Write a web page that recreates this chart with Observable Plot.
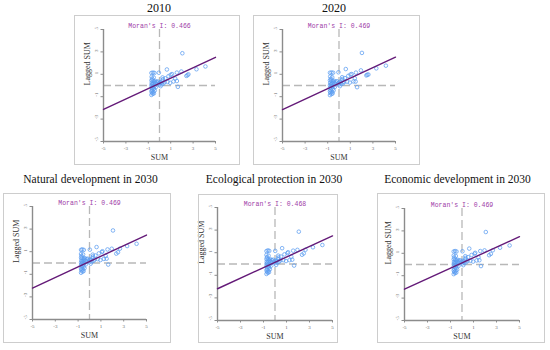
<!DOCTYPE html>
<html><head><meta charset="utf-8">
<script src="https://cdn.jsdelivr.net/npm/d3@7"></script>
<script src="https://cdn.jsdelivr.net/npm/@observablehq/plot@0.6"></script>
<style>
body{margin:0;background:#fff;}
#root{position:relative;width:550px;height:350px;overflow:hidden;background:#fff;}
.title{position:absolute;font-family:"Liberation Serif","Times New Roman",serif;color:#111;white-space:nowrap;transform:translateX(-50%);line-height:1;}
.box{position:absolute;border:1px solid #cdcdcd;box-sizing:border-box;pointer-events:none;}
.panel{position:absolute;}
</style></head><body><div id="root"></div>
<script>
// ---- data ----
const panelTitles = ["2010", "2020", "Natural development in 2030", "Ecological protection in 2030", "Economic development in 2030"];
const moranI = [0.466, 0.469, 0.469, 0.468, 0.469];
const intercepts = [0.19, 0.19, 0.13, 0.15, 0.14];
const axisTicks = [-5, -3, -1, 1, 3, 5];
const xLabel = "SUM";
const yLabel = "Lagged SUM";

const pts2010 = [
 [-0.72,1.12],[-0.58,1.15],[-0.45,1.12],[-0.06,1.14],
 [-0.7,0.78],[-0.52,0.72],[-0.66,0.6],
 [-0.72,0.45],[-0.6,0.42],[-0.48,0.36],[-0.38,0.4],
 [-0.7,0.22],[-0.64,0.12],[-0.55,0.18],[-0.45,0.26],[-0.35,0.22],[-0.25,0.32],[-0.15,0.36],
 [-0.72,0.02],[-0.62,-0.04],[-0.5,-0.08],[-0.4,0.0],[-0.3,-0.12],
 [-0.72,-0.18],[-0.6,-0.24],[-0.5,-0.3],[-0.66,-0.38],[-0.42,-0.44],
 [-0.72,-0.5],[-0.56,-0.56],[-0.68,-0.64],[-0.6,-0.74],[-0.72,-0.84],[-0.5,-0.7],
 [-0.05,0.2],[0.05,0.3],[0.15,0.24],[0.25,0.42],[0.35,0.18],[0.1,-0.06],[0.0,0.06],[0.2,0.1],[0.45,0.3],[0.3,0.56],[0.27,0.72],[0.52,0.64],
 [0.66,1.43],[0.8,0.83],[1.0,0.95],[1.12,1.02],[0.95,0.24],[0.72,0.32],[1.25,0.36],[1.55,0.4],[1.4,0.62],[1.64,-0.12],
 [1.55,1.15],[1.95,1.25],[2.4,0.86],[2.58,1.0],[2.5,0.92],[3.3,1.45],[4.1,1.7],[2.04,2.88]
];
const pts2020 = [
 [-0.8,1.14],[-0.66,1.16],[-0.52,1.14],[-0.05,1.18],
 [-0.78,0.8],[-0.6,0.74],[-0.72,0.6],
 [-0.8,0.46],[-0.68,0.42],[-0.55,0.38],[-0.44,0.42],
 [-0.78,0.24],[-0.7,0.12],[-0.6,0.2],[-0.5,0.28],[-0.4,0.22],[-0.3,0.34],[-0.18,0.38],
 [-0.8,0.02],[-0.7,-0.04],[-0.58,-0.1],[-0.46,0.0],[-0.36,-0.12],
 [-0.8,-0.2],[-0.68,-0.26],[-0.56,-0.32],[-0.74,-0.4],[-0.48,-0.44],
 [-0.8,-0.52],[-0.62,-0.58],[-0.76,-0.66],[-0.66,-0.76],[-0.8,-0.86],[-0.56,-0.7],
 [-0.08,0.22],[0.04,0.32],[0.14,0.26],[0.24,0.44],[0.36,0.2],[0.08,-0.06],[-0.02,0.08],[0.2,0.12],[0.46,0.32],[0.3,0.58],[0.28,0.74],[0.52,0.66],
 [0.6,1.47],[0.82,0.86],[1.02,0.98],[1.12,1.02],[0.96,0.26],[0.72,0.34],[1.28,0.36],[1.47,0.35],[1.4,0.64],[1.6,-0.15],
 [1.5,1.15],[1.94,1.35],[2.42,0.9],[2.6,0.98],[2.5,0.96],[3.3,1.53],[4.15,1.77],[2.03,2.91]
];
const ptsNatural = [
 [-0.74,1.16],[-0.64,1.2],[-0.5,1.16],[0.03,1.18],
 [-0.74,0.8],[-0.56,0.76],[-0.7,0.62],
 [-0.74,0.46],[-0.62,0.42],[-0.5,0.38],[-0.4,0.42],
 [-0.72,0.22],[-0.66,0.12],[-0.56,0.2],[-0.46,0.28],[-0.36,0.22],[-0.26,0.34],[-0.16,0.38],
 [-0.74,0.02],[-0.64,-0.04],[-0.52,-0.1],[-0.42,0.0],[-0.32,-0.12],
 [-0.74,-0.2],[-0.62,-0.26],[-0.52,-0.32],[-0.68,-0.4],[-0.44,-0.46],
 [-0.74,-0.52],[-0.58,-0.58],[-0.7,-0.66],[-0.62,-0.76],[-0.74,-0.86],[-0.52,-0.72],
 [-0.06,0.22],[0.05,0.32],[0.15,0.26],[0.26,0.44],[0.36,0.2],[0.1,-0.06],[0.0,0.08],[0.2,0.12],[0.46,0.32],[0.3,0.58],[0.28,0.74],[0.52,0.66],
 [0.62,1.41],[0.82,0.85],[1.09,0.97],[1.14,1.04],[0.96,0.26],[0.72,0.34],[1.26,0.36],[1.5,0.38],[1.42,0.64],[1.64,-0.14],
 [1.58,1.2],[1.95,1.26],[2.35,0.83],[2.67,1.27],[2.5,0.95],[3.3,1.5],[4.13,1.7],[2.06,2.88]
];
const ptsEcological = [
 [-0.74,1.14],[-0.62,1.2],[-0.5,1.16],[0.02,1.16],
 [-0.74,0.8],[-0.56,0.74],[-0.7,0.6],
 [-0.74,0.44],[-0.62,0.42],[-0.5,0.36],[-0.4,0.42],
 [-0.72,0.22],[-0.66,0.12],[-0.56,0.2],[-0.46,0.26],[-0.36,0.22],[-0.26,0.34],[-0.16,0.38],
 [-0.74,0.02],[-0.64,-0.04],[-0.52,-0.1],[-0.42,0.0],[-0.32,-0.14],
 [-0.74,-0.2],[-0.62,-0.26],[-0.52,-0.32],[-0.68,-0.42],[-0.44,-0.46],
 [-0.74,-0.54],[-0.58,-0.58],[-0.7,-0.68],[-0.62,-0.78],[-0.74,-0.88],[-0.52,-0.72],
 [-0.06,0.22],[0.05,0.3],[0.15,0.26],[0.26,0.44],[0.36,0.2],[0.1,-0.08],[0.0,0.08],[0.2,0.12],[0.46,0.32],[0.3,0.58],[0.28,0.74],[0.52,0.66],
 [0.62,1.4],[0.82,0.85],[1.08,0.96],[1.14,1.04],[0.96,0.26],[0.72,0.34],[1.26,0.34],[1.5,0.38],[1.42,0.64],[1.66,-0.14],
 [1.58,1.18],[1.95,1.25],[2.35,0.82],[2.65,1.26],[2.5,0.94],[3.3,1.48],[4.12,1.68],[2.07,2.86]
];
const ptsEconomic = [
 [-0.72,1.16],[-0.6,1.2],[-0.48,1.16],[0.04,1.18],
 [-0.72,0.8],[-0.54,0.76],[-0.68,0.62],
 [-0.72,0.46],[-0.6,0.42],[-0.48,0.38],[-0.38,0.42],
 [-0.7,0.22],[-0.64,0.12],[-0.54,0.2],[-0.44,0.28],[-0.34,0.22],[-0.24,0.34],[-0.14,0.38],
 [-0.72,0.02],[-0.62,-0.04],[-0.5,-0.1],[-0.4,0.0],[-0.3,-0.12],
 [-0.72,-0.2],[-0.6,-0.26],[-0.5,-0.32],[-0.66,-0.4],[-0.42,-0.46],
 [-0.72,-0.52],[-0.56,-0.58],[-0.68,-0.66],[-0.6,-0.76],[-0.72,-0.86],[-0.5,-0.72],
 [-0.04,0.22],[0.06,0.32],[0.16,0.26],[0.27,0.44],[0.37,0.2],[0.11,-0.06],[0.01,0.08],[0.21,0.12],[0.47,0.32],[0.31,0.58],[0.29,0.74],[0.53,0.66],
 [0.63,1.42],[0.83,0.85],[1.1,0.97],[1.15,1.04],[0.97,0.26],[0.73,0.34],[1.27,0.36],[1.51,0.38],[1.43,0.64],[1.65,-0.14],
 [1.59,1.2],[1.96,1.26],[2.36,0.83],[2.68,1.27],[2.51,0.95],[3.31,1.5],[4.14,1.7],[2.07,2.9]
];
const panelPoints = [pts2010, pts2020, ptsNatural, ptsEcological, ptsEconomic];

// ---- layout (pixels) ----
const layouts = [
  {box:[74,15,240,165], plot:[103,29,215,141], title:[159,2,12]},
  {box:[253,15,420,165], plot:[282,29,395,141], title:[334,2,12]},
  {box:[3,193,171,343], plot:[32,206,146,319], title:[90.5,173.7,11.5]},
  {box:[198,194,338,343], plot:[217,207,332,320], title:[274,173.7,11.5]},
  {box:[377,193,545,343], plot:[404,208,519,320], title:[457.5,173.7,11.5]}
];

const root = document.getElementById("root");
const serif = "Liberation Serif, Times New Roman, serif";

layouts.forEach((L, i) => {
  const [bx0, by0, bx1, by1] = L.box;
  const [px0, py0, px1, py1] = L.plot;
  const I = moranI[i], b = intercepts[i];
  const chart = Plot.plot({
    width: bx1 - bx0, height: by1 - by0,
    marginLeft: px0 - bx0, marginTop: py0 - by0,
    marginRight: bx1 - px1, marginBottom: by1 - py1,
    x: {domain: [-5, 5], axis: null},
    y: {domain: [-5, 5], axis: null},
    style: {background: "transparent", overflow: "visible"},
    marks: [
      Plot.ruleX([0], {stroke: "#b8b8b8", strokeWidth: 1.3, strokeDasharray: "8,4"}),
      Plot.ruleY([0], {stroke: "#b8b8b8", strokeWidth: 1.3, strokeDasharray: "8,4"}),
      Plot.ruleX([-5], {stroke: "#8c8c8c", strokeWidth: 1.4}),
      Plot.ruleY([-5], {stroke: "#8c8c8c", strokeWidth: 1.4}),
      Plot.axisX({ticks: axisTicks, tickSize: 2.5, tickPadding: 2, fontSize: 5, label: null,
        stroke: "#8c8c8c", fill: "#666", fontFamily: serif, tickFormat: d => String(d)}),
      Plot.axisY({ticks: axisTicks, tickSize: 2.5, label: null, stroke: "#8c8c8c", tickFormat: () => ""}),
      Plot.text(axisTicks, {y: d => d, frameAnchor: "left", dx: -7, rotate: -90, text: d => String(d),
        fontSize: 5, fill: "#666", fontFamily: serif}),
      Plot.text([xLabel], {frameAnchor: "bottom", dy: 16, lineAnchor: "middle", text: d => d,
        fontSize: 8, fill: "#333", fontFamily: serif}),
      Plot.text([yLabel], {frameAnchor: "left", dx: -16, rotate: -90, lineAnchor: "middle", text: d => d,
        fontSize: 8, fill: "#333", fontFamily: serif}),
      Plot.text([`Moran's I: ${I.toFixed(3)}`], {x: () => 0, frameAnchor: "top", dy: -4, lineAnchor: "middle",
        text: d => d, fontSize: 6.5, fill: "#a040a8", fontFamily: "Liberation Mono, DejaVu Sans Mono, monospace"}),
      Plot.dot(panelPoints[i], {x: d => d[0], y: d => d[1], r: 1.8, stroke: "#5b9cf0", strokeWidth: 0.75, fill: "none"}),
      Plot.line([-5, 5], {x: d => d, y: d => b + I * d, stroke: "#641a78", strokeWidth: 1.4})
    ]
  });
  const holder = document.createElement("div");
  holder.className = "panel";
  holder.style.left = bx0 + "px";
  holder.style.top = by0 + "px";
  holder.appendChild(chart);
  root.appendChild(holder);

  const box = document.createElement("div");
  box.className = "box";
  box.style.left = bx0 + "px"; box.style.top = by0 + "px";
  box.style.width = (bx1 - bx0) + "px"; box.style.height = (by1 - by0) + "px";
  root.appendChild(box);

  const t = document.createElement("div");
  t.className = "title";
  t.textContent = panelTitles[i];
  t.style.left = L.title[0] + "px";
  t.style.top = L.title[1] + "px";
  t.style.fontSize = L.title[2] + "px";
  t.style.lineHeight = L.title[2] + "px";
  root.appendChild(t);
});
</script></body></html>
